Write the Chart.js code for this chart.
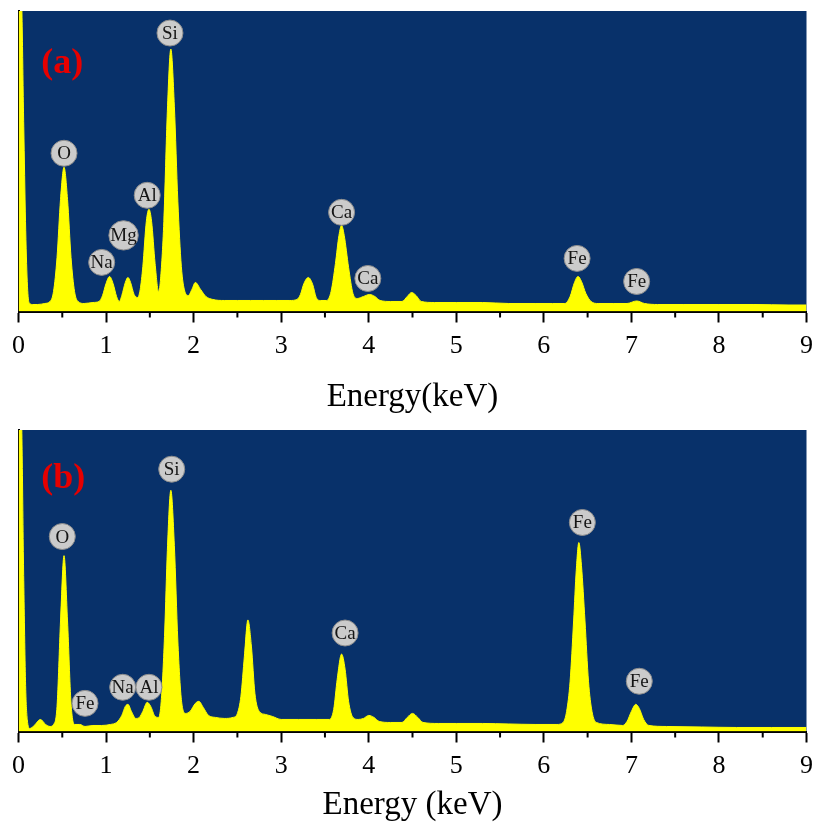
<!DOCTYPE html>
<html>
<head>
<meta charset="utf-8">
<script src="https://cdn.jsdelivr.net/npm/chart.js@4.4.1/dist/chart.umd.min.js"></script>
<style>
  html, body { margin: 0; padding: 0; background: #fff; }
  canvas { position: absolute; left: 0; }
  #chartA { top: 0; }
  #chartB { top: 415px; }
</style>
</head>
<body>
<canvas id="chartA" width="816" height="415"></canvas>
<canvas id="chartB" width="816" height="415"></canvas>
<script>
// energy axis ticks (keV)
const majorTicks = [0, 1, 2, 3, 4, 5, 6, 7, 8, 9];
const minorTicks = [0.5, 1.5, 2.5, 3.5, 4.5, 5.5, 6.5, 7.5, 8.5];

// spectrum (a): energy (keV) and counts (a.u.)
const energyA = [0.00, 0.03, 0.06, 0.08, 0.10, 0.12, 0.16, 0.22, 0.30, 0.36,
  0.40, 0.44, 0.48, 0.52, 0.56, 0.60, 0.64, 0.68, 0.75, 0.85,
  0.92, 0.96, 1.00, 1.04, 1.08, 1.12, 1.15, 1.18, 1.22, 1.25,
  1.28, 1.32, 1.36, 1.39, 1.42, 1.46, 1.49, 1.52, 1.56, 1.60,
  1.62, 1.66, 1.70, 1.74, 1.78, 1.82, 1.86, 1.90, 1.94, 1.98,
  2.02, 2.08, 2.14, 2.22, 2.35, 2.50, 2.65, 2.80, 2.95, 3.10,
  3.18, 3.22, 3.26, 3.31, 3.36, 3.40, 3.45, 3.52, 3.57, 3.62,
  3.66, 3.69, 3.72, 3.77, 3.82, 3.87, 3.94, 4.01, 4.07, 4.13,
  4.25, 4.38, 4.44, 4.49, 4.54, 4.60, 4.75, 5.00, 5.30, 5.60,
  5.90, 6.10, 6.24, 6.30, 6.35, 6.39, 6.43, 6.48, 6.54, 6.62,
  6.80, 6.95, 7.06, 7.15, 7.30, 7.60, 8.00, 8.40, 8.80, 9.00];
const countsA = [320, 320, 185, 90, 30, 9, 7, 7, 8, 10,
  20, 54, 112, 144, 112, 54, 20, 10, 8, 9,
  10, 16, 28, 35, 28, 15, 10, 16, 29, 34,
  29, 17, 14, 22, 45, 90, 102, 90, 48, 20,
  30, 90, 200, 262, 205, 110, 45, 20, 16, 22,
  29, 22, 15, 12, 11, 11, 11, 11, 11, 11,
  12, 17, 28, 34, 27, 14, 11, 11, 20, 48,
  76, 86, 76, 44, 18, 13, 15, 17, 15, 11,
  10, 10, 15, 19, 16, 10, 9, 9, 9, 8,
  8, 8, 8, 15, 29, 35, 30, 18, 10, 8,
  8, 8, 10.5, 8, 7, 7, 7, 7, 6.5, 6.5];

// spectrum (b)
const energyB = [0.00, 0.03, 0.06, 0.08, 0.10, 0.13, 0.18, 0.25, 0.31, 0.36,
  0.40, 0.44, 0.48, 0.52, 0.56, 0.60, 0.64, 0.70, 0.76, 0.85,
  0.95, 1.05, 1.12, 1.18, 1.22, 1.25, 1.29, 1.34, 1.38, 1.42,
  1.47, 1.51, 1.56, 1.60, 1.63, 1.67, 1.70, 1.74, 1.78, 1.82,
  1.86, 1.91, 1.96, 2.02, 2.06, 2.11, 2.17, 2.25, 2.35, 2.45,
  2.50, 2.54, 2.58, 2.62, 2.66, 2.70, 2.75, 2.82, 2.90, 3.00,
  3.20, 3.40, 3.55, 3.60, 3.64, 3.69, 3.73, 3.77, 3.82, 3.88,
  3.94, 4.00, 4.06, 4.12, 4.25, 4.38, 4.44, 4.50, 4.56, 4.62,
  4.80, 5.00, 5.30, 5.60, 5.90, 6.15, 6.22, 6.26, 6.30, 6.34,
  6.37, 6.40, 6.43, 6.47, 6.51, 6.55, 6.60, 6.75, 6.90, 6.95,
  7.00, 7.05, 7.09, 7.14, 7.20, 7.40, 7.80, 8.20, 8.60, 9.00];
const countsB = [320, 320, 150, 50, 12, 3, 6, 12, 7, 5,
  7, 25, 110, 175, 110, 28, 7, 7, 5, 6,
  6, 7, 9, 16, 25, 27, 20, 13, 14, 20,
  29, 25, 15, 14, 30, 100, 180, 240, 185, 90,
  32, 18, 20, 28, 30, 24, 16, 14, 13, 14,
  18, 35, 75, 111, 85, 38, 20, 17, 15, 12,
  12, 12, 12, 22, 52, 77, 62, 30, 14, 12,
  13, 16, 14, 10, 9, 9, 14, 18, 14, 9,
  8, 8, 8, 7.5, 7, 7, 9, 20, 50, 110,
  160, 188, 165, 110, 50, 20, 9, 7, 6, 10,
  20, 27, 23, 12, 6, 5, 4.5, 4, 4, 4];

// peak labels: element, energy, label height (counts)
const peakNamesA = ['O', 'Na', 'Mg', 'Al', 'Si', 'Ca', 'Ca', 'Fe', 'Fe'];
const peakEnergyA = [0.52, 0.95, 1.20, 1.47, 1.73, 3.69, 3.99, 6.38, 7.06];
const peakCountA = [158, 49, 76, 116, 278, 99, 33, 53, 30];

const peakNamesB = ['O', 'Fe', 'Na', 'Al', 'Si', 'Ca', 'Fe', 'Fe'];
const peakEnergyB = [0.50, 0.76, 1.19, 1.49, 1.75, 3.73, 6.44, 7.09];
const peakCountB = [194, 28, 44, 44, 261, 98, 208, 50];

const YELLOW = '#ffff00';
const NAVY = '#08316a';
Chart.defaults.font.family = '"Liberation Serif", "Times New Roman", serif';

const backgroundPlugin = {
  id: 'plotBackground',
  beforeDraw(chart) {
    const { ctx, chartArea: a } = chart;
    ctx.save();
    ctx.fillStyle = NAVY;
    ctx.fillRect(a.left, a.top, a.right - a.left, a.bottom - a.top);
    ctx.restore();
  }
};

const minorTickPlugin = {
  id: 'minorTicks',
  afterDraw(chart) {
    const { ctx, chartArea, scales: { x } } = chart;
    ctx.save();
    ctx.strokeStyle = '#000';
    ctx.lineWidth = 2;
    minorTicks.forEach(v => {
      const px = x.getPixelForValue(v);
      ctx.beginPath();
      ctx.moveTo(px, chartArea.bottom + 1);
      ctx.lineTo(px, chartArea.bottom + 6);
      ctx.stroke();
    });
    ctx.restore();
  }
};

const peakLabelPlugin = {
  id: 'peakLabels',
  afterDatasetsDraw(chart, args, opts) {
    const { ctx, scales: { x, y } } = chart;
    ctx.save();
    ctx.textAlign = 'center';
    ctx.textBaseline = 'middle';
    ctx.font = '19px "Liberation Serif"';
    opts.names.forEach((name, i) => {
      const px = x.getPixelForValue(opts.energies[i]);
      const py = y.getPixelForValue(opts.counts[i]);
      const r = Math.max(13, ctx.measureText(name).width / 2 + 1.5);
      ctx.beginPath();
      ctx.arc(px, py, r, 0, Math.PI * 2);
      ctx.fillStyle = '#cbcbcb';
      ctx.fill();
      ctx.lineWidth = 1;
      ctx.strokeStyle = '#8c8c8c';
      ctx.stroke();
      ctx.fillStyle = '#151515';
      ctx.fillText(name, px, py + 1);
    });
    ctx.font = 'bold 36px "Liberation Serif"';
    ctx.fillStyle = '#e60000';
    ctx.fillText(opts.tag, x.getPixelForValue(opts.tagAt[0]), y.getPixelForValue(opts.tagAt[1]));
    ctx.restore();
  }
};

function buildChart(id, energies, counts, labels, cfg) {
  const points = energies.map((e, i) => ({ x: e, y: counts[i] }));
  return new Chart(document.getElementById(id), {
    type: 'line',
    data: {
      datasets: [{
        data: points,
        borderColor: YELLOW,
        backgroundColor: YELLOW,
        borderWidth: 1,
        fill: 'origin',
        pointRadius: 0,
        cubicInterpolationMode: 'monotone'
      }]
    },
    options: {
      responsive: false,
      animation: false,
      layout: { padding: { left: 18.5, right: 9.5, top: cfg.top, bottom: 0 } },
      plugins: {
        legend: { display: false },
        tooltip: { enabled: false },
        peakLabels: labels
      },
      scales: {
        x: {
          type: 'linear',
          min: 0,
          max: 9,
          afterBuildTicks: s => { s.ticks = majorTicks.map(v => ({ value: v })); },
          afterFit: s => {
            s.height = 415 - cfg.axisY;
            // keep the plot edges fixed; the end labels fit in the page padding
            s.paddingLeft = 0;
            s.paddingRight = 0;
          },
          ticks: { color: '#000', font: { size: 26 }, padding: 8, maxRotation: 0, autoSkip: false },
          grid: { drawOnChartArea: false, drawTicks: true, tickLength: 11, tickWidth: 2, tickColor: '#000' },
          border: { display: true, color: '#000', width: 2 },
          title: { display: true, text: cfg.title, color: '#000', font: { size: 33, lineHeight: 1 }, padding: { top: 0, bottom: cfg.titlePad } }
        },
        y: {
          min: 0,
          max: 300,
          afterFit: s => { s.width = 0; },
          ticks: { display: false },
          grid: { display: false },
          border: { display: true, color: '#000', width: 2 }
        }
      }
    },
    plugins: [backgroundPlugin, minorTickPlugin, peakLabelPlugin]
  });
}

buildChart('chartA', energyA, countsA,
  { names: peakNamesA, energies: peakEnergyA, counts: peakCountA, tag: '(a)', tagAt: [0.5, 247] },
  { top: 11, axisY: 311.5, title: 'Energy(keV)', titlePad: 1.5 });

buildChart('chartB', energyB, countsB,
  { names: peakNamesB, energies: peakEnergyB, counts: peakCountB, tag: '(b)', tagAt: [0.51, 252] },
  { top: 15, axisY: 316.5, title: 'Energy (keV)', titlePad: 8.5 });
</script>
</body>
</html>
